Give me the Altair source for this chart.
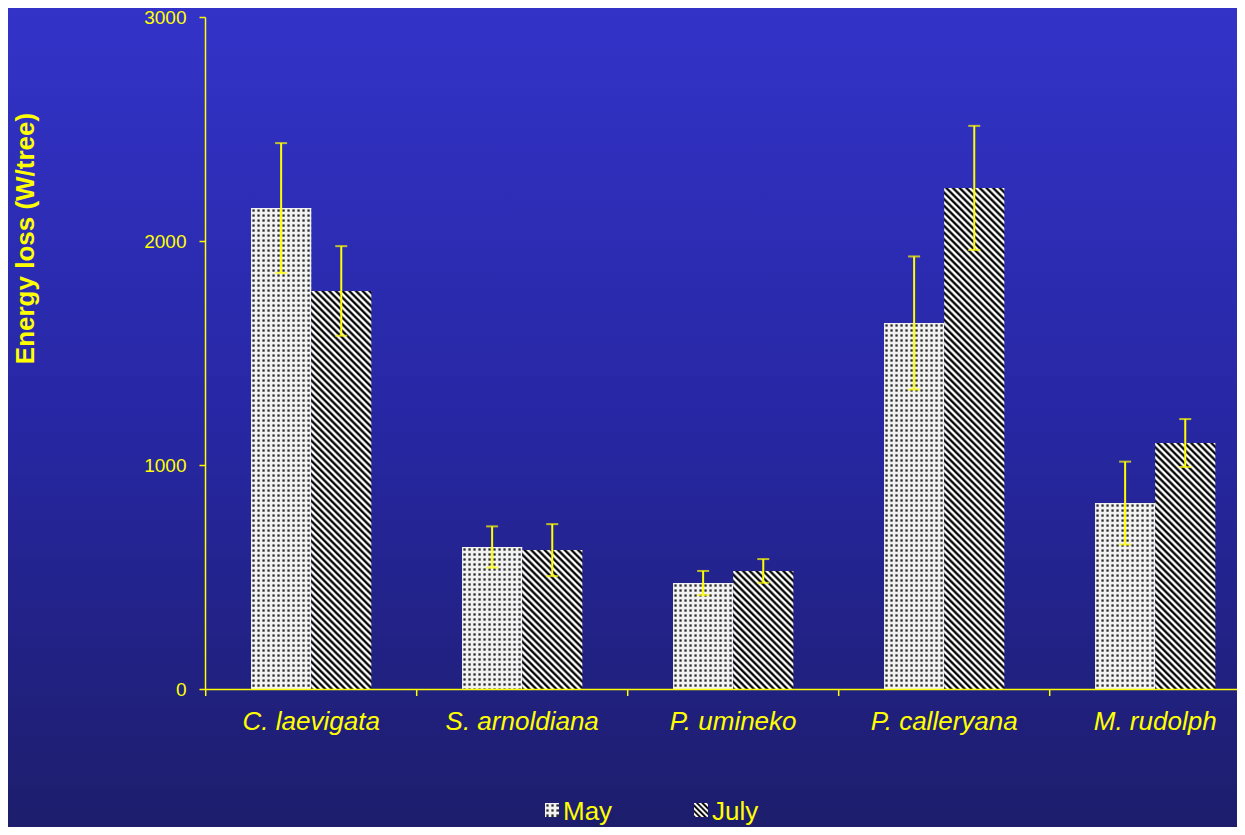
import altair as alt
import pandas as pd

# ---- data ----
cats = ["C. laevigata", "S. arnoldiana", "P. umineko", "P. calleryana", "M. rudolph"]
series = ["May", "July"]
may = [2147, 634, 473, 1634, 830]
may_err = [290, 92, 54, 297, 185]
july = [1777, 620, 527, 2237, 1098]
july_err = [200, 116, 53, 277, 107]
y_ticks = [0, 1000, 2000, 3000]

# ---- style / layout ----
YELLOW = "#FFFF00"
FONT = "Liberation Sans"
W, H = 1032, 672
PAD = {"left": 197, "top": 9, "right": 0, "bottom": 138}
YMAX = 3000
P_IN, P_OUT, ALIGN = 0.43, 0.1605, 0.68
STEP = W / (len(cats) - P_IN + 2 * P_OUT)
BAR_W = STEP * (1 - P_IN) / len(series)

rows = []
for i, c in enumerate(cats):
    rows.append({"cat": c, "series": series[0], "value": may[i], "err": may_err[i]})
    rows.append({"cat": c, "series": series[1], "value": july[i], "err": july_err[i]})
df = pd.DataFrame(rows)
df["lo"] = df["value"] - df["err"]
df["hi"] = df["value"] + df["err"]


def stripe_grad(w, h, period=6.7):
    k = h / w
    denom = w * (1 + k * k)
    stops = []
    n = int((w + h) / period) + 2
    for i in range(n):
        for frac, col in ((0.0, "#000000"), (0.2, "#111111"), (0.5, "#ffffff"), (0.7, "#ffffff")):
            t = (i + frac) * period / denom
            if t <= 1:
                stops.append({"offset": round(t, 6), "color": col})
    return {"gradient": "linear", "x1": 0, "y1": 1, "x2": 1, "y2": 1 - k, "stops": stops}


def dot_base(w, period=5.0):
    stops = []
    n = int(w / period) + 2
    for i in range(n):
        for frac, col in ((0.0, "#f2f2f2"), (0.12, "#f2f2f2"), (0.4, "#2a2a2a"),
                          (0.6, "#2a2a2a"), (0.88, "#f2f2f2")):
            t = (i + frac) * period / w
            if t <= 1:
                stops.append({"offset": round(t, 6), "color": col})
    return {"gradient": "linear", "x1": 0, "y1": 0, "x2": 1, "y2": 0, "stops": stops}


def dot_overlay(h, period=5.0):
    stops = []
    n = int(h / period) + 2
    on, off = "rgba(242,242,242,1)", "rgba(242,242,242,0)"
    for i in range(n):
        for frac, col in ((0.0, on), (0.12, on), (0.4, off), (0.6, off), (0.88, on)):
            t = (i + frac) * period / h
            if t <= 1:
                stops.append({"offset": round(t, 6), "color": col})
    return {"gradient": "linear", "x1": 0, "y1": 0, "x2": 0, "y2": 1, "stops": stops}


bg_grad = {
    "gradient": "linear", "x1": 0, "y1": 0, "x2": 0, "y2": 1,
    "stops": [
        {"offset": 0, "color": "#3333C9"},
        {"offset": 0.5, "color": "#2727A4"},
        {"offset": 1, "color": "#1D1D6B"},
    ],
}

xaxis = alt.Axis(
    title=None, ticks=False, labelAngle=0, labelFont=FONT, labelFontSize=26,
    labelFontStyle="italic", labelColor=YELLOW, labelPadding=19, labelLimit=400,
    domainColor=YELLOW, domainWidth=1.5, grid=False, zindex=1,
)
yaxis = alt.Axis(
    values=y_ticks, format="d", grid=False, domainColor=YELLOW, domainWidth=1.5,
    tickColor=YELLOW, tickWidth=1.5, tickSize=6, labelColor=YELLOW, labelFont=FONT,
    labelFontSize=19, labelPadding=13, titleColor=YELLOW, titleFont=FONT,
    titleFontSize=26, titleFontWeight="bold", titleAngle=270, titleX=-180,
    titleY=221, titleAlign="center", titleBaseline="middle", zindex=1,
)
xscale = alt.Scale(domain=cats, paddingInner=P_IN, paddingOuter=P_OUT, align=ALIGN)
yscale = alt.Scale(domain=[0, YMAX], nice=False, zero=True)


def xenc(**kw):
    return alt.X("cat:N", sort=cats, scale=xscale, axis=xaxis, **kw)


xoff = alt.XOffset("series:N", sort=series,
                   scale=alt.Scale(domain=series, paddingInner=0, paddingOuter=0))


def yenc(field):
    return alt.Y(f"{field}:Q", scale=yscale, axis=yaxis, title="Energy loss (W/tree)")


dummy = pd.DataFrame({"d": [0]})

layers = []
layers.append(
    alt.Chart(dummy).mark_rect(fill=bg_grad).encode(
        x=alt.value(-PAD["left"] - 5), x2=alt.value(W + 10),
        y=alt.value(-PAD["top"] - 5), y2=alt.value(H + PAD["bottom"] + 10),
    )
)

# bars, one layer each so that every pattern is sized to its bar
for i, c in enumerate(cats):
    for s, vals in ((series[0], may), (series[1], july)):
        h = vals[i] / YMAX * H
        filt = (alt.datum.cat == c) & (alt.datum.series == s)
        enc = dict(x=xenc(), xOffset=xoff, y=yenc("value"))
        if s == series[0]:
            layers.append(alt.Chart().transform_filter(filt).mark_bar(fill=dot_base(BAR_W)).encode(**enc))
            layers.append(alt.Chart().transform_filter(filt).mark_bar(fill=dot_overlay(h)).encode(**enc))
        else:
            layers.append(alt.Chart().transform_filter(filt).mark_bar(fill=stripe_grad(BAR_W, h)).encode(**enc))

# error bars
layers.append(
    alt.Chart().mark_rule(color=YELLOW, strokeWidth=2).encode(
        x=xenc(), xOffset=xoff, y=yenc("lo"), y2="hi:Q"
    )
)
for f in ("hi", "lo"):
    layers.append(
        alt.Chart().mark_tick(color=YELLOW, thickness=2, size=12, orient="horizontal").encode(
            x=xenc(), xOffset=xoff, y=yenc(f)
        )
    )

# category boundary ticks on the x axis
layers.append(
    alt.Chart().transform_filter(alt.datum.series == series[0])
    .mark_rule(color=YELLOW, strokeWidth=1.5, xOffset=-(STEP * P_IN / 2))
    .encode(x=xenc(bandPosition=0), y=alt.value(H), y2=alt.value(H + 7))
)

# legend
LEG_Y0, LEG_Y1, LEG_BASE = 786, 800, 803
layers.append(alt.Chart(dummy).mark_rect(fill=dot_base(14)).encode(
    x=alt.value(340), x2=alt.value(354), y=alt.value(LEG_Y0), y2=alt.value(LEG_Y1)))
layers.append(alt.Chart(dummy).mark_rect(fill=dot_overlay(14)).encode(
    x=alt.value(340), x2=alt.value(354), y=alt.value(LEG_Y0), y2=alt.value(LEG_Y1)))
layers.append(alt.Chart(dummy).mark_rect(fill=stripe_grad(14, 14, 5.5)).encode(
    x=alt.value(489), x2=alt.value(503), y=alt.value(LEG_Y0), y2=alt.value(LEG_Y1)))
layers.append(alt.Chart(dummy).mark_text(
    text=series[0], font=FONT, fontSize=26, color=YELLOW, align="left", baseline="alphabetic"
).encode(x=alt.value(358), y=alt.value(LEG_BASE)))
layers.append(alt.Chart(dummy).mark_text(
    text=series[1], font=FONT, fontSize=26, color=YELLOW, align="left", baseline="alphabetic"
).encode(x=alt.value(507), y=alt.value(LEG_BASE)))

chart = (
    alt.layer(*layers, data=df)
    .properties(width=W, height=H, padding=PAD, autosize=alt.AutoSizeParams(type="none"))
    .configure(background="#1D1D6B")
    .configure_view(stroke=None)
)

chart.save("out.html", embed_options={"renderer": "svg", "actions": False})
